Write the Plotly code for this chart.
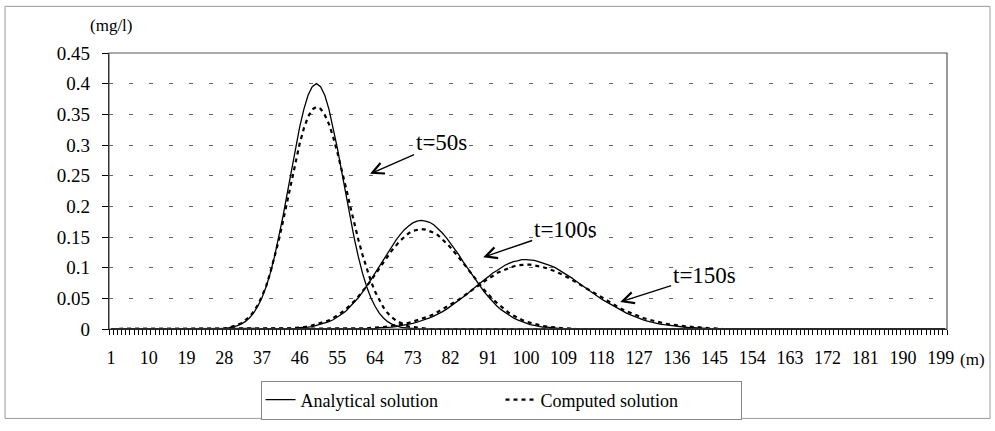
import plotly.graph_objects as go

# ---------------- data ----------------
N_CATEGORIES = 200  # x categories 1..200 (m)
X_TICK_LABELS = [1, 10, 19, 28, 37, 46, 55, 64, 73, 82, 91, 100, 109, 118,
                 127, 136, 145, 154, 163, 172, 181, 190, 199]
Y_TICKS = [0, 0.05, 0.1, 0.15, 0.2, 0.25, 0.3, 0.35, 0.4, 0.45]

# analytical solution, t = 50 s (values from x = 28)
ANA_50_START = 28
ANA_50 = [0.001, 0.002, 0.003, 0.005, 0.008, 0.012, 0.018, 0.026, 0.037, 0.051,
          0.069, 0.091, 0.118, 0.149, 0.183, 0.220, 0.258, 0.295, 0.329, 0.358,
          0.381, 0.395, 0.400, 0.395, 0.381, 0.358, 0.329, 0.295, 0.258, 0.220,
          0.183, 0.149, 0.118, 0.091, 0.069, 0.051, 0.037, 0.026, 0.018, 0.012,
          0.008, 0.005, 0.003, 0.002, 0.001]
# analytical solution, t = 100 s (values from x = 45)
ANA_100_START = 45
ANA_100 = [0.001, 0.002, 0.002, 0.003, 0.004, 0.006, 0.007, 0.009, 0.012, 0.015,
           0.019, 0.024, 0.029, 0.036, 0.043, 0.051, 0.060, 0.069, 0.080, 0.091,
           0.102, 0.113, 0.124, 0.135, 0.145, 0.154, 0.162, 0.168, 0.173, 0.176,
           0.177,
           0.176, 0.174, 0.170, 0.164, 0.157, 0.149, 0.140, 0.131, 0.121, 0.110,
           0.100, 0.090, 0.080, 0.070, 0.061, 0.053, 0.045, 0.038, 0.032, 0.027,
           0.022, 0.018, 0.015, 0.012, 0.009, 0.007, 0.006, 0.004, 0.003, 0.003,
           0.002, 0.001, 0.001]
# analytical solution, t = 150 s (values from x = 63)
ANA_150_START = 63
ANA_150 = [0.001, 0.001, 0.002, 0.002, 0.003, 0.003, 0.004, 0.005, 0.006, 0.007,
           0.009, 0.011, 0.013, 0.015, 0.018, 0.021, 0.024, 0.028, 0.032, 0.037,
           0.041, 0.046, 0.052, 0.057, 0.063, 0.069, 0.074, 0.080, 0.085, 0.091,
           0.095, 0.100, 0.104, 0.107, 0.110, 0.111, 0.113,
           0.113,
           0.113, 0.112, 0.110, 0.108, 0.106, 0.103, 0.100, 0.096, 0.092, 0.088,
           0.083, 0.078, 0.073, 0.069, 0.064, 0.059, 0.054, 0.049, 0.045, 0.041,
           0.037, 0.033, 0.029, 0.026, 0.023, 0.020, 0.018, 0.015, 0.013, 0.011,
           0.010, 0.008, 0.007, 0.006, 0.005, 0.004, 0.003, 0.003, 0.002, 0.002,
           0.002, 0.001, 0.001]

# computed solution, t = 50 s (values from x = 29)
COMP_50_START = 29
COMP_50 = [0.002, 0.004, 0.006, 0.009, 0.014, 0.020, 0.028, 0.039, 0.053, 0.070,
           0.092, 0.116, 0.144, 0.175, 0.207, 0.240, 0.272, 0.302, 0.327, 0.346,
           0.358, 0.362,
           0.359, 0.349, 0.334, 0.313, 0.288, 0.261, 0.232, 0.202, 0.173, 0.146,
           0.121, 0.098, 0.078, 0.061, 0.047, 0.035, 0.026, 0.019, 0.014, 0.010,
           0.007, 0.004, 0.003, 0.002, 0.001, 0.001]
# computed solution, t = 100 s (values from x = 44)
COMP_100_START = 44
COMP_100 = [0.001, 0.002, 0.002, 0.003, 0.004, 0.006, 0.007, 0.009, 0.012, 0.014,
            0.018, 0.022, 0.027, 0.032, 0.038, 0.045, 0.053, 0.061, 0.070, 0.079,
            0.089, 0.099, 0.109, 0.118, 0.128, 0.136, 0.144, 0.150, 0.156, 0.160,
            0.162, 0.163,
            0.162, 0.160, 0.157, 0.153, 0.147, 0.140, 0.133, 0.125, 0.117, 0.108,
            0.099, 0.090, 0.081, 0.073, 0.064, 0.057, 0.049, 0.043, 0.037, 0.031,
            0.026, 0.022, 0.018, 0.015, 0.012, 0.010, 0.008, 0.006, 0.005, 0.004,
            0.003, 0.002, 0.002, 0.001, 0.001]
# computed solution, t = 150 s (values from x = 62)
COMP_150_START = 62
COMP_150 = [0.001, 0.002, 0.002, 0.003, 0.003, 0.004, 0.005, 0.006, 0.007, 0.008,
            0.010, 0.012, 0.014, 0.016, 0.018, 0.021, 0.024, 0.028, 0.031, 0.035,
            0.039, 0.044, 0.048, 0.053, 0.058, 0.063, 0.068, 0.073, 0.078, 0.082,
            0.086, 0.091, 0.094, 0.097, 0.100, 0.102, 0.104, 0.105,
            0.105,
            0.105, 0.104, 0.103, 0.101, 0.099, 0.097, 0.094, 0.091, 0.088, 0.084,
            0.080, 0.076, 0.072, 0.068, 0.064, 0.059, 0.055, 0.051, 0.047, 0.043,
            0.039, 0.036, 0.032, 0.029, 0.026, 0.023, 0.021, 0.018, 0.016, 0.014,
            0.012, 0.011, 0.009, 0.008, 0.007, 0.006, 0.005, 0.004, 0.004, 0.003,
            0.003, 0.002, 0.002, 0.001, 0.001]

LABELS = ["Analytical solution", "Computed solution"]
ANNOTATIONS = [("t=50s", 62.8, 0.253), ("t=100s", 89.8, 0.117), ("t=150s", 122.5, 0.044)]

# ---------------- build ----------------
X = list(range(1, N_CATEGORIES + 1))


def full_series(start, vals):
    ys = [0.0] * N_CATEGORIES
    for i, v in enumerate(vals):
        ys[start - 1 + i] = v
    return ys


FONT = "Liberation Serif"
fig = go.Figure()

analytical = [(ANA_50_START, ANA_50), (ANA_100_START, ANA_100), (ANA_150_START, ANA_150)]
computed = [(COMP_50_START, COMP_50), (COMP_100_START, COMP_100), (COMP_150_START, COMP_150)]

for i, (s, v) in enumerate(analytical):
    fig.add_trace(go.Scatter(x=X, y=full_series(s, v), mode="lines",
                             line=dict(color="black", width=1.3),
                             name=LABELS[0], legendgroup="a", showlegend=(i == 0)))
for i, (s, v) in enumerate(computed):
    fig.add_trace(go.Scatter(x=X, y=full_series(s, v), mode="lines",
                             line=dict(color="black", width=2.2, dash="4px,4px"),
                             name=LABELS[1], legendgroup="c", showlegend=(i == 0)))

L, R, T, B = 109, 48, 53, 94
W, H = 995, 431
pw, ph = W - L - R, H - T - B


def px_x(p):
    return (p - L) / pw


def px_y(p):
    return (H - B - p) / ph


# annotations with arrows
offsets = [(71, -31), (82, -28), (84, -27)]
for (txt, xv, yv), (ax, ay) in zip(ANNOTATIONS, offsets):
    fig.add_annotation(x=xv, y=yv, text=txt, showarrow=True, ax=ax, ay=ay,
                       arrowhead=5, arrowsize=1.6, arrowwidth=1.4, arrowcolor="black",
                       font=dict(family=FONT, size=23, color="black"))

fig.add_annotation(text="(mg/l)", xref="paper", yref="paper", x=px_x(111), y=px_y(25),
                   xanchor="center", yanchor="middle",
                   showarrow=False, font=dict(family=FONT, size=17, color="black"))
fig.add_annotation(text="(m)", xref="paper", yref="paper", x=px_x(958), y=px_y(368),
                   xanchor="left", yanchor="middle", showarrow=False,
                   font=dict(family=FONT, size=17, color="black"))

# plot area border and outer frame
fig.add_shape(type="rect", xref="paper", yref="paper", x0=0, y0=0, x1=1, y1=1,
              line=dict(color="#555555", width=1.2), layer="above")
fig.add_shape(type="rect", xref="paper", yref="paper", x0=px_x(5), y0=px_y(429),
              x1=px_x(990), y1=px_y(5), line=dict(color="#999999", width=1))

fig.update_layout(
    width=W, height=H,
    margin=dict(l=L, r=R, t=T, b=B),
    paper_bgcolor="white", plot_bgcolor="white",
    font=dict(family=FONT, color="black"),
    showlegend=True,
    legend=dict(orientation="h", xref="paper", yref="paper",
                x=px_x(501), xanchor="center", y=px_y(390), yanchor="top",
                bordercolor="#888888", borderwidth=1, bgcolor="white",
                font=dict(family=FONT, size=18, color="black"),
                entrywidth=195, entrywidthmode="pixels"),
    xaxis=dict(range=[0.5, N_CATEGORIES + 0.5], tickmode="array", tickvals=X_TICK_LABELS,
               ticktext=[str(v) for v in X_TICK_LABELS], ticks="", showgrid=False,
               zeroline=False, showline=True, linecolor="black", linewidth=1.2,
               ticklabelstandoff=12,
               tickfont=dict(family=FONT, size=18, color="black"),
               minor=dict(ticks="outside", tick0=0.5, dtick=1, ticklen=5,
                          tickcolor="black", tickwidth=1, showgrid=False)),
    yaxis=dict(range=[0, 0.45], tickmode="array", tickvals=Y_TICKS,
               ticktext=[("%g" % v) for v in Y_TICKS],
               ticks="outside", ticklen=6, tickcolor="black",
               showline=True, linecolor="black", linewidth=1.2, zeroline=False,
               showgrid=True, gridcolor="#666666", gridwidth=1, griddash="4px,16px",
               ticklabelstandoff=8,
               tickfont=dict(family=FONT, size=19, color="black")),
)

fig.write_html("out.html", config={"displayModeBar": False},
               post_script="document.body.style.margin='0';"
                           "document.body.style.overflow='hidden';")
